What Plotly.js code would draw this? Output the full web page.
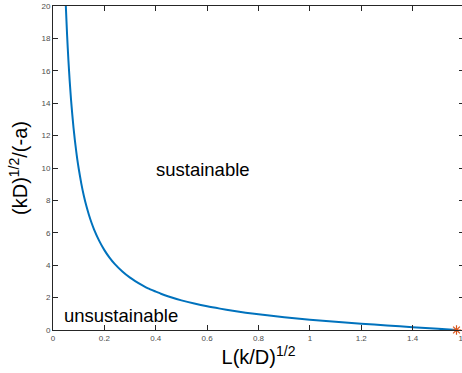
<!DOCTYPE html>
<html>
<head>
<meta charset="utf-8">
<script src="https://cdn.plot.ly/plotly-3.0.1.min.js"></script>
<style>
  html, body { margin: 0; padding: 0; overflow: hidden; background: #fff; }
  #chart { width: 470px; height: 373px; }
</style>
</head>
<body>
<div id="chart"></div>
<script>
// Curve values
const curveX = [0.049, 0.05, 0.055, 0.06, 0.065, 0.07, 0.075, 0.08, 0.085, 0.09, 0.095, 0.10, 0.11, 0.12, 0.13, 0.14, 0.15, 0.16, 0.18, 0.20, 0.22, 0.24, 0.27, 0.30, 0.32, 0.35, 0.37, 0.40, 0.42, 0.45, 0.50, 0.55, 0.60, 0.65, 0.70, 0.75, 0.80, 0.90, 1.00, 1.10, 1.20, 1.30, 1.40, 1.50, 1.5708];
const curveY = [20.4, 19.98, 18.16, 16.65, 15.36, 14.26, 13.31, 12.47, 11.74, 11.08, 10.49, 9.97, 9.05, 8.29, 7.65, 7.10, 6.62, 6.20, 5.50, 4.93, 4.47, 4.08, 3.61, 3.23, 3.02, 2.74, 2.57, 2.37, 2.24, 2.07, 1.83, 1.63, 1.46, 1.32, 1.19, 1.07, 0.97, 0.79, 0.64, 0.51, 0.39, 0.28, 0.17, 0.07, 0.0];
// End point marker
const markX = [1.5708];
const markY = [0];
// Region labels
const labelTexts = ["sustainable", "unsustainable"];
const labelX = [0.583, 0.266];
const labelY = [9.9, 0.9];
const xTitle = "L(k/D)<sup>1/2</sup>";
const yTitle = "(kD)<sup>1/2</sup>/(-a)";

const axisColor = '#262626';
const tickFont = {family: 'Liberation Sans, Arial, sans-serif', size: 8, color: '#4d4d4d'};
const titleFont = {family: 'Liberation Sans, Arial, sans-serif', size: 20, color: '#000'};

const traces = [
  {x: curveX, y: curveY, type: 'scatter', mode: 'lines',
   line: {color: '#0072BD', width: 2, shape: 'spline', smoothing: 0.5}, hoverinfo: 'skip'},
  {x: markX, y: markY, type: 'scatter', mode: 'markers', cliponaxis: false,
   marker: {symbol: 'asterisk-open', size: 8, color: '#D95319', line: {color: '#D95319', width: 1.2}}}
];

const annotations = labelTexts.map((t, i) => ({
  x: labelX[i], y: labelY[i], xref: 'x', yref: 'y', text: t, showarrow: false,
  font: {family: 'Liberation Sans, Arial, sans-serif', size: 18.5, color: '#000'},
  xanchor: 'center', yanchor: 'middle'
}));

const layout = {
  width: 470, height: 373,
  margin: {l: 53, r: 6, t: 6, b: 43},
  paper_bgcolor: '#fff', plot_bgcolor: '#fff',
  showlegend: false,
  xaxis: {
    range: [0, 1.6], dtick: 0.2, tick0: 0,
    ticks: 'inside', ticklen: 5, tickwidth: 1, tickcolor: axisColor,
    showline: true, linecolor: axisColor, linewidth: 1, mirror: 'ticks',
    showgrid: false, zeroline: false, tickfont: tickFont,
    ticklabeloverflow: 'allow',
    title: {text: xTitle, font: titleFont, standoff: 6}
  },
  yaxis: {
    range: [0, 20], dtick: 2, tick0: 0,
    ticks: 'inside', ticklen: 5, tickwidth: 1, tickcolor: axisColor,
    showline: true, linecolor: axisColor, linewidth: 1, mirror: 'ticks',
    showgrid: false, zeroline: false, tickfont: tickFont,
    title: {text: yTitle, font: titleFont, standoff: 8}
  },
  annotations: annotations
};

Plotly.newPlot('chart', traces, layout, {displayModeBar: false, staticPlot: true});
</script>
</body>
</html>
